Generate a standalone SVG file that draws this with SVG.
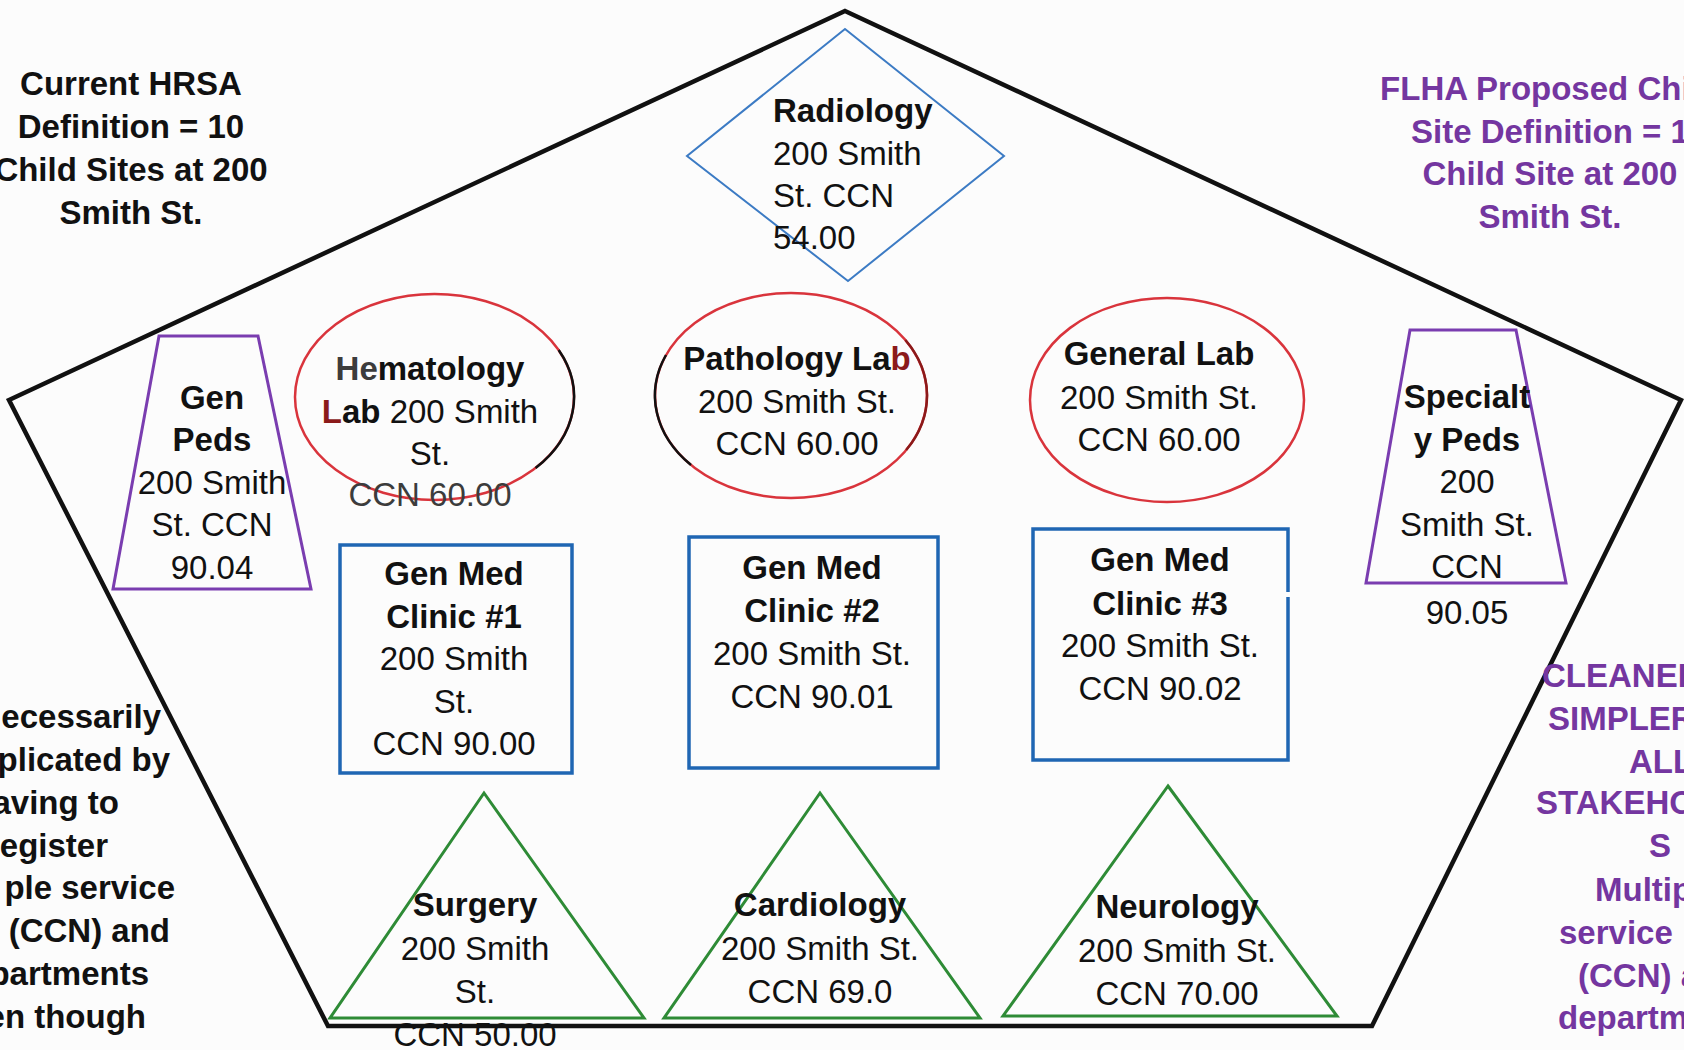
<svg xmlns="http://www.w3.org/2000/svg" width="1684" height="1050" viewBox="0 0 1684 1050">
<style>
text{font-family:"Liberation Sans",Arial,sans-serif;font-size:33px;fill:#111}
.b{font-weight:bold}
.m{text-anchor:middle}
.e{text-anchor:end}
.p{fill:#7436A0;font-weight:bold}
.dr{fill:#8B1A1A}
.g{fill:#3c3c3c}
.frame{fill:none;stroke:#111;stroke-width:4.5;stroke-linejoin:miter}
.rect{fill:none;stroke:#1F66B3;stroke-width:3.5}
.ell{fill:none;stroke:#D9343C;stroke-width:2.5}
.arc{fill:none;stroke-width:2.5}
.trap{fill:none;stroke:#7A3DB0;stroke-width:3}
.tri{fill:none;stroke:#2E8B36;stroke-width:3}
.dia{fill:none;stroke:#3C7BC4;stroke-width:2}
</style>
<rect width="1684" height="1050" fill="#fcfcfc"/>
<g id="frame">
<polygon class="frame" points="845,11 1681,400 1372,1026 328,1026 9,400"/>
</g>
<g id="connectors"/>
<g id="note-left-top">
<text class="b m" x="131" y="95">Current HRSA</text>
<text class="b m" x="131" y="138">Definition = 10</text>
<text class="b m" x="131" y="181">Child Sites at 200</text>
<text class="b m" x="131" y="224">Smith St.</text>
</g>
<g id="note-right-top">
<text class="p m" x="1550" y="100">FLHA Proposed Child</text>
<text class="p m" x="1550" y="143">Site Definition = 1</text>
<text class="p m" x="1550" y="185">Child Site at 200</text>
<text class="p m" x="1550" y="228">Smith St.</text>
</g>
<g id="note-left-bottom">
<text class="b e" x="161" y="728">ecessarily</text>
<text class="b e" x="170" y="771">plicated by</text>
<text class="b e" x="119" y="814">aving to</text>
<text class="b e" x="108" y="857">egister</text>
<text class="b e" x="175" y="899">ple service</text>
<text class="b e" x="170" y="942">(CCN) and</text>
<text class="b e" x="149" y="985">partments</text>
<text class="b e" x="146" y="1028">en though</text>
</g>
<g id="note-right-bottom">
<text class="p" x="1542" y="687">CLEANER</text>
<text class="p" x="1548" y="730">SIMPLER</text>
<text class="p" x="1629" y="773">ALL</text>
<text class="p" x="1536" y="814">STAKEHO</text>
<text class="p" x="1649" y="857">S</text>
<text class="p" x="1595" y="901">Multip</text>
<text class="p" x="1559" y="944">service</text>
<text class="p" x="1578" y="987">(CCN) a</text>
<text class="p" x="1558" y="1029">departm</text>
</g>
<g id="radiology">
<polygon class="dia" points="845,29 1004,156 848,281 687,156"/>
<text class="b" x="773" y="122">Radiology</text>
<text x="773" y="165">200 Smith</text>
<text x="773" y="207">St. CCN</text>
<text x="773" y="249">54.00</text>
</g>
<g id="gen-peds">
<polygon class="trap" points="159,336 258,336 311,589 113,589"/>
<text class="b m" x="212" y="409">Gen</text>
<text class="b m" x="212" y="451">Peds</text>
<text class="m" x="212" y="494">200 Smith</text>
<text class="m" x="212" y="536">St. CCN</text>
<text class="m" x="212" y="579">90.04</text>
</g>
<g id="hematology-lab">
<ellipse class="ell" cx="434.5" cy="397" rx="139.5" ry="103"/>
<path class="arc" stroke="#111" d="M558.7,350 A139.5,103 0 0 1 535.6,468"/>
<text class="b m" x="430" y="380"><tspan class="g">He</tspan>matology</text>
<text class="m" x="430" y="423"><tspan class="b dr">L</tspan><tspan class="b">ab</tspan> 200 Smith</text>
<text class="m" x="430" y="465">St.</text>
<text class="m g" x="430" y="506">CCN 60.00</text>
</g>
<g id="pathology-lab">
<ellipse class="ell" cx="791" cy="395.5" rx="136" ry="102.5"/>
<path class="arc" stroke="#111" d="M666,355 A136,102.5 0 0 0 691,465"/>
<path class="arc" stroke="#8B1A1A" d="M905.4,340 A136,102.5 0 0 1 906.2,450"/>
<text class="b m" x="797" y="370">Pathology La<tspan class="dr">b</tspan></text>
<text class="m" x="797" y="413">200 Smith St.</text>
<text class="m" x="797" y="455">CCN 60.00</text>
</g>
<g id="general-lab">
<ellipse class="ell" cx="1167" cy="400" rx="137" ry="102"/>
<text class="b m" x="1159" y="365">General Lab</text>
<text class="m" x="1159" y="409">200 Smith St.</text>
<text class="m" x="1159" y="451">CCN 60.00</text>
</g>
<g id="specialty-peds">
<polygon class="trap" points="1410,330 1516,330 1566,583 1366,583"/>
<text class="b m" x="1467" y="408">Specialt</text>
<text class="b m" x="1467" y="451">y Peds</text>
<text class="m" x="1467" y="493">200</text>
<text class="m" x="1467" y="536">Smith St.</text>
<text class="m" x="1467" y="578">CCN</text>
<text class="m" x="1467" y="624">90.05</text>
</g>
<g id="gen-med-clinic-1">
<rect class="rect" x="340" y="545" width="232" height="228"/>
<text class="b m" x="454" y="585">Gen Med</text>
<text class="b m" x="454" y="628">Clinic #1</text>
<text class="m" x="454" y="670">200 Smith</text>
<text class="m" x="454" y="713">St.</text>
<text class="m" x="454" y="755">CCN 90.00</text>
</g>
<g id="gen-med-clinic-2">
<rect class="rect" x="689" y="537" width="249" height="231"/>
<text class="b m" x="812" y="579">Gen Med</text>
<text class="b m" x="812" y="622">Clinic #2</text>
<text class="m" x="812" y="665">200 Smith St.</text>
<text class="m" x="812" y="708">CCN 90.01</text>
</g>
<g id="gen-med-clinic-3">
<path class="rect" d="M1288,592 V529 H1033 V760 H1288 V597"/>
<text class="b m" x="1160" y="571">Gen Med</text>
<text class="b m" x="1160" y="615">Clinic #3</text>
<text class="m" x="1160" y="657">200 Smith St.</text>
<text class="m" x="1160" y="700">CCN 90.02</text>
</g>
<g id="surgery">
<polygon class="tri" points="484,793 644,1018 330,1018"/>
<text class="b m" x="475" y="916">Surgery</text>
<text class="m" x="475" y="960">200 Smith</text>
<text class="m" x="475" y="1003">St.</text>
<text class="m" x="475" y="1046">CCN 50.00</text>
</g>
<g id="cardiology">
<polygon class="tri" points="820,793 980,1018 664,1018"/>
<text class="b m" x="820" y="916">Cardiology</text>
<text class="m" x="820" y="960">200 Smith St.</text>
<text class="m" x="820" y="1003">CCN 69.0</text>
</g>
<g id="neurology">
<polygon class="tri" points="1168,786 1337,1016 1003,1016"/>
<text class="b m" x="1177" y="918">Neurology</text>
<text class="m" x="1177" y="962">200 Smith St.</text>
<text class="m" x="1177" y="1005">CCN 70.00</text>
</g>
</svg>
